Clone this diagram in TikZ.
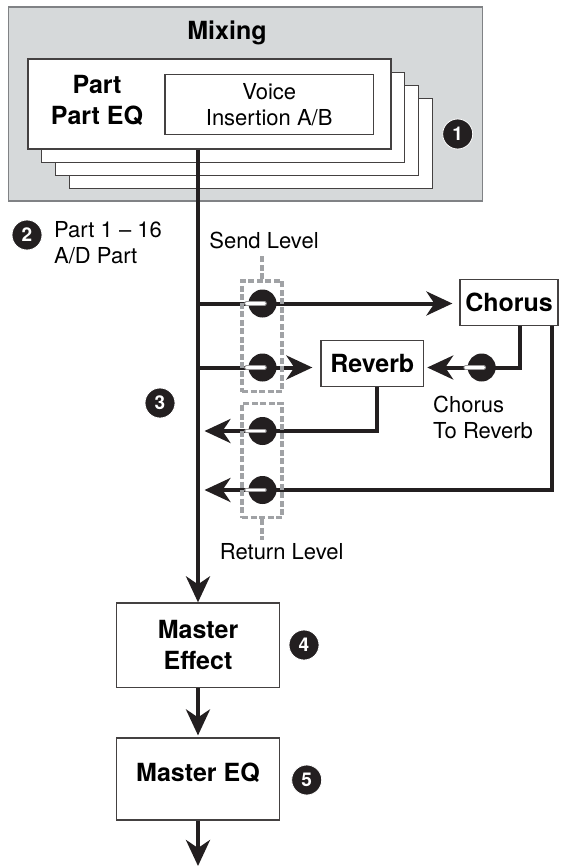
\documentclass[tikz,border=0pt]{standalone}
\usepackage{fontspec}
\setmainfont{TeX Gyre Heros}
\usetikzlibrary{arrows.meta}
\definecolor{ink}{HTML}{231F20}
\definecolor{mixgray}{HTML}{D6D9DA}
\definecolor{mixborder}{HTML}{808285}
\definecolor{lvlgray}{HTML}{A0A2A5}
\begin{document}
\begin{tikzpicture}[x=1pt,y=-1pt,
  wire/.style={draw=ink, line width=4pt},
  flow/.style={wire, -{Stealth[length=26pt,width=24pt,inset=8pt]}},
  box/.style={draw=ink!85, line width=1.2pt, fill=white, inner sep=0pt},
  card/.style={box, minimum width=363pt, minimum height=90pt},
  knob/.style={circle, fill=ink, minimum size=28pt, inner sep=0pt},
  knobedge/.style={draw=ink!45, line width=4.6pt, line cap=round},
  knobbar/.style={draw=white, line width=2.8pt, line cap=round},
  num/.style={circle, fill=ink, draw=white, line width=0.8pt, minimum size=30pt, inner sep=0pt, text=white, font=\fontsize{19}{19}\selectfont\bfseries},
  lab/.style={inner sep=0pt, font=\fontsize{22}{26}\selectfont},
  blab/.style={inner sep=0pt, font=\fontsize{25}{31}\selectfont\bfseries},
  lvl/.style={draw=lvlgray, line width=3.5pt, dash pattern=on 6pt off 2.5pt, inner sep=0pt},
]
\useasboundingbox (0,0) rectangle (566,867);

% Mixing area
\node[draw=mixborder, fill=mixgray, line width=1.2pt, minimum width=474pt, minimum height=194pt, inner sep=0pt] (mix) at (245.7,104) {};
\node[blab] (mixt) at (227,33) {Mixing};
\node[card] (card4) at (250.6,143.6) {};
\node[card] (card3) at (236.9,130.4) {};
\node[card] (card2) at (223.2,117.2) {};
\node[card] (card1) at (209.5,104) {};
\node[blab, align=center] (part) at (97,100.5) {Part\\Part EQ};
\node[box, minimum width=208.3pt, minimum height=60.4pt, lab, align=center] (voice) at (269.2,104.5) {Voice\\Insertion A/B};
\node[num] (n1) at (457.7,134) {1};

% effect boxes
\node[box, minimum width=98pt, minimum height=46pt, blab] (cho) at (509,302.2) {Chorus};
\node[box, minimum width=102.7pt, minimum height=46pt, blab] (rev) at (372.3,363.7) {Reverb};
\node[box, minimum width=163pt, minimum height=84.7pt, blab, align=center] (me) at (198,645.3) {Master\\Effect};
\node[box, minimum width=163pt, minimum height=82pt] (meq) at (198,779) {};
\node[blab] (meqt) at (198,773) {Master EQ};

% junction coordinates
\coordinate (j1) at (198,303.5);
\coordinate (j2) at (198,367.5);
\coordinate (r1) at (198,431);
\coordinate (r2) at (198,490);
\coordinate (out) at (198,866);

% connectors
\draw[flow] (me.north |- card1.south) -- (me.north);
\draw[flow, shorten >=7pt] (j1) -- (j1 -| cho.west);
\draw[flow, shorten >=8pt] (j2) -- (j2 -| rev.west);
\draw[flow, shorten >=3pt] ([xshift=11pt]cho.south) |- (j2 -| rev.east);
\draw[flow, shorten >=6.5pt] ([xshift=4.4pt]rev.south) |- (r1);
\draw[flow, shorten >=6.5pt] ([xshift=43pt]cho.south) |- (r2);
\draw[flow, shorten >=2pt] (me.south) -- (meq.north);
\draw[flow] (meq.south) -- (out);

% knobs
\foreach \n/\x/\y in {k1/262.5/303.5, k2/262.5/367.5, k3/262.5/431, k4/262.5/490, k5/481.7/367.5}{
  \node[knob] (\n) at (\x,\y) {};
  \draw[knobedge] ([xshift=-16pt]\n.center) -- ([xshift=2pt]\n.center);
  \draw[knobbar] ([xshift=-16pt]\n.center) -- ([xshift=2pt]\n.center);
}

% level groups
\node[lvl, minimum width=40pt, minimum height=110.7pt] (sendlvl) at (262,336.3) {};
\node[lvl, minimum width=40pt, minimum height=114pt] (retlvl) at (262,460.7) {};
\coordinate (sendtop) at (262,255);
\coordinate (retbot) at (262,540);
\draw[lvl] (sendlvl.north) -- (sendtop);
\draw[lvl] (retlvl.south) -- (retbot);
\node[lab] (sendt) at (264,240) {Send Level};
\node[lab] (rett) at (281.7,551.7) {Return Level};

% other labels
\node[lab, align=left, anchor=west] (partt) at (54,242.5) {Part 1 -- 16\\A/D Part};
\node[lab, align=left, anchor=west] (c2r) at (433,417) {Chorus\\To Reverb};
\node[num] (n2) at (27,235) {2};
\node[num] (n3) at (160,403) {3};
\node[num] (n4) at (304,645) {4};
\node[num] (n5) at (306.7,780) {5};
\end{tikzpicture}
\end{document}
